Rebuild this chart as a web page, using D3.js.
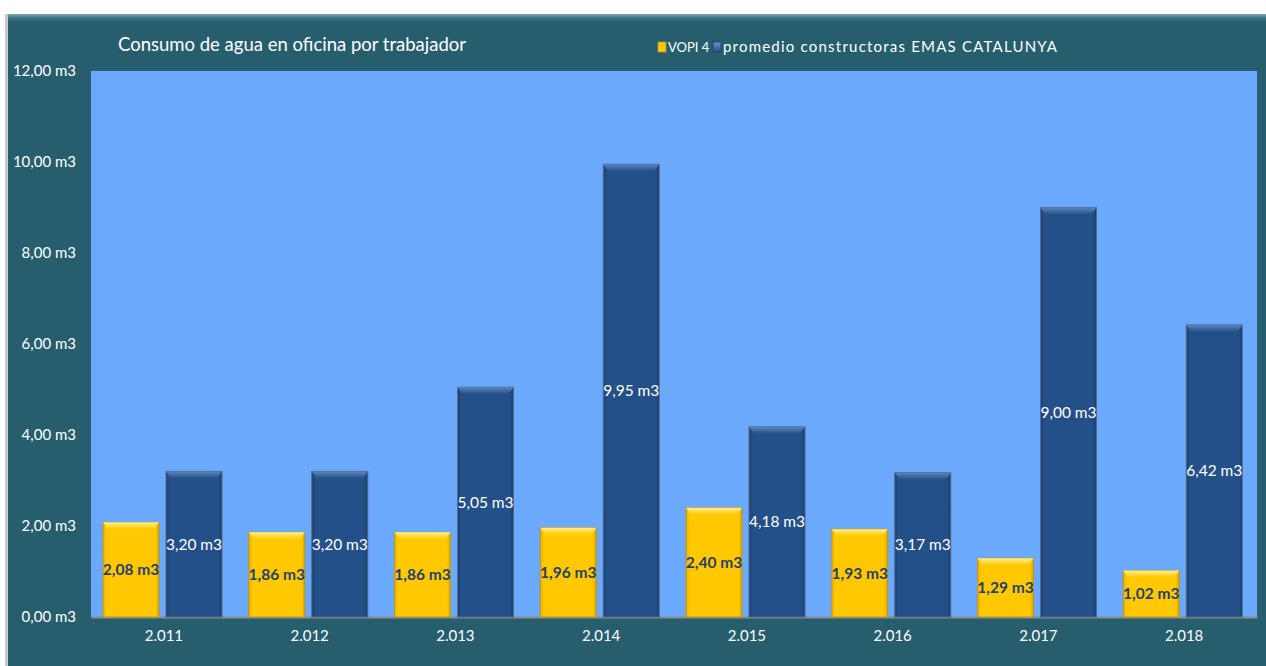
<!DOCTYPE html>
<html>
<head>
<meta charset="utf-8">
<script src="https://cdn.jsdelivr.net/npm/d3@7"></script>
<style>
body { margin: 0; background: #fff; }
text { font-family: Lato, "Open Sans", sans-serif; }
</style>
</head>
<body>
<svg width="1266" height="666"></svg>
<script>
var years = ["2.011", "2.012", "2.013", "2.014", "2.015", "2.016", "2.017", "2.018"];
var vopi = [2.08, 1.86, 1.86, 1.96, 2.40, 1.93, 1.29, 1.02];
var emas = [3.20, 3.20, 5.05, 9.95, 4.18, 3.17, 9.00, 6.42];
var seriesNames = ["VOPI 4", "promedio  constructoras EMAS  CATALUNYA"];
var yTicks = [0, 2, 4, 6, 8, 10, 12];

var svg = d3.select("svg");
var fmt = function(v) { return d3.format(".2f")(v).replace(".", ",") + " m3"; };

var defs = svg.append("defs");
function grad(id, stops, vertical) {
  var g = defs.append("linearGradient").attr("id", id)
    .attr("x1", 0).attr("y1", 0).attr("x2", vertical ? 0 : 1).attr("y2", vertical ? 1 : 0);
  stops.forEach(function(s) { g.append("stop").attr("offset", s[0]).attr("stop-color", s[1]); });
}
grad("gY", [[0, "#e6ad00"], [0.06, "#ffc800"], [0.94, "#ffc800"], [1, "#d9a300"]]);
grad("gB", [[0, "#1c3f6e"], [0.07, "#24508a"], [0.93, "#24508a"], [1, "#1b3d6b"]]);
grad("gYt", [[0, "#fff08a"], [1, "#ffc800"]], true);
grad("gBt", [[0, "#5d85bb"], [1, "#24508a"]], true);
grad("gLegB", [[0, "#6f93c4"], [1, "#24508a"]], true);
grad("gPanel", [[0, "#7fa9b4"], [0.5, "#3c7381"], [1, "#265e6e"]], true);

// panel
svg.append("rect").attr("x", 5).attr("y", 14).attr("width", 1266).attr("height", 660).attr("fill", "#c8c8c8");
svg.append("rect").attr("x", 8).attr("y", 14).attr("width", 1266).attr("height", 660).attr("fill", "#265e6e");
svg.append("rect").attr("x", 8).attr("y", 14).attr("width", 1266).attr("height", 8).attr("fill", "url(#gPanel)");

var margin = { left: 91, right: 1257, top: 71, bottom: 617 };
var x = d3.scaleBand().domain(years).range([margin.left, margin.right]);
var y = d3.scaleLinear().domain([0, 12]).range([margin.bottom, margin.top]);

svg.append("rect").attr("x", margin.left).attr("y", margin.top)
  .attr("width", margin.right - margin.left).attr("height", margin.bottom - margin.top)
  .attr("fill", "#6ba9fd");

// y axis
var yAxis = svg.append("g").attr("transform", "translate(76,0)")
  .call(d3.axisLeft(y).tickValues(yTicks).tickFormat(fmt).tickSize(0).tickPadding(0));
yAxis.select(".domain").remove();
yAxis.selectAll("text").attr("fill", "#fff").style("font-size", "15px");

// x axis
var xAxis = svg.append("g").attr("transform", "translate(0," + margin.bottom + ")")
  .call(d3.axisBottom(x).tickSize(0).tickPadding(13));
xAxis.select(".domain").attr("stroke", "#8c8c8c").attr("stroke-width", 2);
xAxis.selectAll("text").attr("fill", "#fff").style("font-size", "15px");

var bw = 56, gap = 7, off = 12;
var data = years.map(function(yr, i) { return { year: yr, v: vopi[i], e: emas[i] }; });

function drawBars(key, dx, fill, top, edge) {
  var g = svg.append("g").selectAll("g").data(data).enter().append("g");
  g.append("rect")
    .attr("x", function(d) { return x(d.year) + dx; })
    .attr("y", function(d) { return y(d[key]); })
    .attr("width", bw)
    .attr("height", function(d) { return y(0) - y(d[key]); })
    .attr("fill", fill).attr("stroke", edge).attr("stroke-width", 1);
  g.append("path")
    .attr("d", function(d) {
      var x0 = x(d.year) + dx, y0 = y(d[key]);
      return "M" + x0 + "," + y0 + "h" + bw + "l-5,7h" + (-(bw - 10)) + "z";
    })
    .attr("fill", top);
  return g;
}

drawBars("v", off, "url(#gY)", "url(#gYt)", "#b8962a");
drawBars("e", off + bw + gap, "url(#gB)", "url(#gBt)", "#50698c");

svg.append("g").selectAll("text").data(data).enter().append("text")
  .attr("x", function(d) { return x(d.year) + off + bw / 2; })
  .attr("y", function(d) { return (y(d.v) + y(0)) / 2; })
  .attr("dy", "0.35em").attr("text-anchor", "middle")
  .attr("fill", "#1f3f73").style("font-weight", "bold").style("font-size", "15.5px")
  .text(function(d) { return fmt(d.v); });

svg.append("g").selectAll("text").data(data).enter().append("text")
  .attr("x", function(d) { return x(d.year) + off + bw + gap + bw / 2; })
  .attr("y", function(d) { return (y(d.e) + y(0)) / 2; })
  .attr("dy", "0.35em").attr("text-anchor", "middle")
  .attr("fill", "#fff").style("font-size", "15.5px")
  .text(function(d) { return fmt(d.e); });

// title
svg.append("text").attr("x", 118).attr("y", 51).attr("fill", "#fff")
  .style("font-size", "18.5px").text("Consumo de agua en oficina por trabajador");

// legend
var leg = svg.append("g");
leg.append("rect").attr("x", 658).attr("y", 42).attr("width", 8).attr("height", 10)
  .attr("fill", "#ffc800").attr("stroke", "#b8962a").attr("stroke-width", 0.8);
leg.append("text").attr("x", 668).attr("y", 52).attr("fill", "#fff").style("font-size", "13px")
  .text(seriesNames[0]);
leg.append("rect").attr("x", 713).attr("y", 42).attr("width", 8).attr("height", 10)
  .attr("fill", "url(#gLegB)").attr("stroke", "#1c3f6e").attr("stroke-width", 0.8);
leg.append("text").attr("x", 723).attr("y", 52).attr("fill", "#fff").style("font-size", "15px")
  .attr("textLength", 334).attr("lengthAdjust", "spacing").text(seriesNames[1]);
</script>
</body>
</html>
